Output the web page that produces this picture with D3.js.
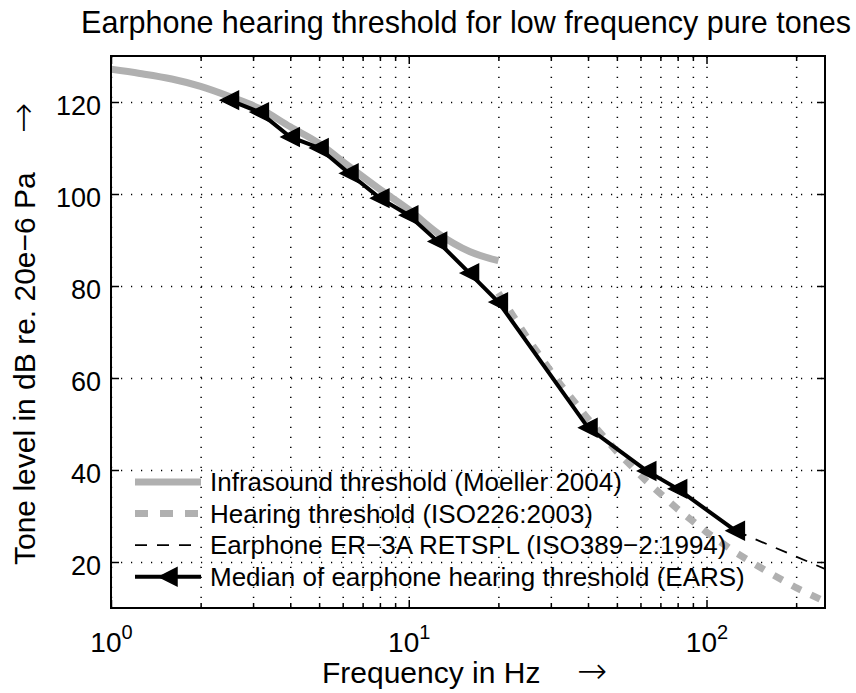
<!DOCTYPE html>
<html lang="en">
    <head>
        <meta charset="utf-8">
        <title>Earphone hearing threshold</title>
        <script src="https://d3js.org/d3.v7.min.js"></script>
        <style>
            body {
                margin: 0;
                background-color: white;
                font-family: 'Liberation Sans', Arial, sans-serif;
            }
            .grid line {
                stroke: #555;
                stroke-width: 1;
                stroke-dasharray: 1.2, 8.8;
            }
            .tick line {
                stroke: black;
                stroke-width: 1.5;
            }
            .arrow {
                font-family: 'DejaVu Sans', sans-serif;
                font-weight: 200;
                font-size: 36px;
            }
        </style>
    </head>
    <body>
        <div class="chart"></div>

        <script>
            // infrasound threshold (Moeller 2004)
            const moellerFreq = [1, 1.25, 1.6, 2, 2.5, 3.15, 4, 5, 6.3, 8, 10, 12.5, 16, 20];
            const moellerDb = [127.1, 126.2, 125.0, 123.4, 121.2, 118.6, 114.6, 111.0, 106.0, 101.0, 96.6, 91.5, 87.5, 85.5];

            // hearing threshold ISO226:2003
            const isoFreq = [20, 25, 31.5, 40, 50, 63, 80, 100, 125, 160, 200, 250];
            const isoDb = [78.5, 68.7, 59.5, 51.1, 44.0, 37.5, 31.5, 26.5, 22.1, 17.9, 14.4, 11.4];

            // earphone ER-3A RETSPL
            const retsplFreq = [125, 250];
            const retsplDb = [26.8, 18.5];

            // median of earphone hearing threshold (EARS)
            const earsFreq = [2.5, 3.15, 4, 5, 6.3, 8, 10, 12.5, 16, 20, 40, 63, 80, 125];
            const earsDb = [120.4, 117.8, 112.4, 110.0, 104.5, 99.1, 95.4, 89.7, 82.8, 76.5, 49.2, 39.8, 35.9, 26.8];

            const yTicks = [20, 40, 60, 80, 100, 120];
            const xMajor = [1, 10, 100];
            const xMinor = [2, 3, 4, 5, 6, 7, 8, 9, 20, 30, 40, 50, 60, 70, 80, 90, 200];

            const legendLabels = [
                "Infrasound threshold (Moeller 2004)",
                "Hearing threshold (ISO226:2003)",
                "Earphone ER\u22123A RETSPL (ISO389\u22122:1994)",
                "Median of earphone hearing threshold (EARS)"
            ];

            const width = 856;
            const height = 693;
            const plotL = 111, plotR = 825, plotT = 56, plotB = 608;

            const xScale = d3.scaleLog().domain([1, 250]).range([plotL, plotR]);
            const yScale = d3.scaleLinear().domain([10, 130]).range([plotB, plotT]);

            const svg = d3.select(".chart")
                .append("svg")
                .attr("width", width)
                .attr("height", height);

            svg.append("clipPath").attr("id", "plotclip")
                .append("rect")
                .attr("x", plotL).attr("y", plotT)
                .attr("width", plotR - plotL).attr("height", plotB - plotT);

            // grid lines
            svg.append("g")
                .attr("class", "grid")
                .attr("transform", "translate(0," + plotB + ")")
                .call(d3.axisBottom(xScale).tickValues(xMajor.concat(xMinor)).tickSize(-(plotB - plotT)).tickFormat(""))
                .call(g => g.select(".domain").remove());
            svg.append("g")
                .attr("class", "grid")
                .attr("transform", "translate(" + plotL + ",0)")
                .call(d3.axisLeft(yScale).tickValues(yTicks).tickSize(-(plotR - plotL)).tickFormat(""))
                .call(g => g.select(".domain").remove());

            // ticks pointing inwards on all four sides
            const tickLen = 8, minorLen = 5;
            svg.append("g")
                .attr("transform", "translate(0," + plotB + ")")
                .call(d3.axisBottom(xScale).tickValues(xMinor).tickSize(-minorLen).tickFormat(""))
                .call(g => g.select(".domain").remove());
            svg.append("g")
                .attr("transform", "translate(0," + plotT + ")")
                .call(d3.axisTop(xScale).tickValues(xMinor).tickSize(-minorLen).tickFormat(""))
                .call(g => g.select(".domain").remove());
            svg.append("g")
                .attr("transform", "translate(0," + plotT + ")")
                .call(d3.axisTop(xScale).tickValues(xMajor).tickSize(-tickLen).tickFormat(""))
                .call(g => g.select(".domain").remove());
            svg.append("g")
                .attr("transform", "translate(" + plotR + ",0)")
                .call(d3.axisRight(yScale).tickValues(yTicks).tickSize(-tickLen).tickFormat(""))
                .call(g => g.select(".domain").remove());

            const xAxis = svg.append("g")
                .attr("transform", "translate(0," + plotB + ")")
                .call(d3.axisBottom(xScale).tickValues(xMajor).tickSize(-tickLen).tickFormat(d => "10"))
                .call(g => g.select(".domain").remove());
            xAxis.selectAll(".tick text")
                .attr("y", 44)
                .attr("dy", 0)
                .attr("fill", "black")
                .style("font-family", "'Liberation Sans', Arial, sans-serif")
                .style("font-size", "28px")
                .each(function(d) {
                    d3.select(this).append("tspan")
                        .attr("dy", -13)
                        .style("font-size", "20px")
                        .text(Math.round(Math.log10(d)));
                });

            svg.append("g")
                .attr("transform", "translate(" + plotL + ",0)")
                .call(d3.axisLeft(yScale).tickValues(yTicks).tickSize(-tickLen).tickPadding(10))
                .call(g => g.select(".domain").remove())
                .call(g => g.selectAll(".tick text")
                    .attr("dy", "0.45em")
                    .attr("fill", "black")
                    .style("font-family", "'Liberation Sans', Arial, sans-serif")
                    .style("font-size", "27px"));

            // data lines
            const plot = svg.append("g").attr("clip-path", "url(#plotclip)");
            const gray = "#b0b0b0";

            const lineOf = (fs, ds, curve) => d3.line()
                .x((d, i) => xScale(fs[i]))
                .y((d, i) => yScale(ds[i]))
                .curve(curve || d3.curveLinear)(ds);

            plot.append("path")
                .attr("d", lineOf(moellerFreq, moellerDb, d3.curveMonotoneX))
                .style("fill", "none")
                .style("stroke", gray)
                .style("stroke-width", 7);

            plot.append("path")
                .attr("d", lineOf(isoFreq, isoDb))
                .style("fill", "none")
                .style("stroke", gray)
                .style("stroke-width", 7)
                .style("stroke-dasharray", "10,11");

            plot.append("path")
                .attr("d", lineOf(retsplFreq, retsplDb))
                .style("fill", "none")
                .style("stroke", "black")
                .style("stroke-width", 1.8)
                .style("stroke-dasharray", "12,10");

            plot.append("path")
                .attr("d", lineOf(earsFreq, earsDb))
                .style("fill", "none")
                .style("stroke", "black")
                .style("stroke-width", 4);

            const marker = "M-9,0L9,-9L9,9Z";
            plot.selectAll(".marker")
                .data(earsDb)
                .enter()
                .append("path")
                .attr("class", "marker")
                .attr("d", marker)
                .attr("transform", (d, i) => "translate(" + xScale(earsFreq[i]) + "," + yScale(d) + ")")
                .style("fill", "black")
                .style("stroke", "black")
                .style("stroke-width", 1.5);

            // plot box
            svg.append("rect")
                .attr("x", plotL).attr("y", plotT)
                .attr("width", plotR - plotL).attr("height", plotB - plotT)
                .style("fill", "none")
                .style("stroke", "black")
                .style("stroke-width", 2);

            // legend
            const legY = 482, legStep = 31.6, legX0 = 135, legX1 = 201;
            const legStyles = [
                { stroke: gray, w: 7, dash: null },
                { stroke: gray, w: 7, dash: "13,12" },
                { stroke: "black", w: 1.8, dash: "12,10" },
                { stroke: "black", w: 4, dash: null }
            ];
            const leg = svg.append("g");
            legendLabels.forEach((label, i) => {
                const yy = legY + i * legStep;
                const s = legStyles[i];
                leg.append("line")
                    .attr("x1", legX0).attr("x2", legX1)
                    .attr("y1", yy).attr("y2", yy)
                    .style("stroke", s.stroke)
                    .style("stroke-width", s.w)
                    .style("stroke-dasharray", s.dash);
                if (i === 3) {
                    leg.append("path")
                        .attr("d", marker)
                        .attr("transform", "translate(" + ((legX0 + legX1) / 2) + "," + yy + ")")
                        .style("fill", "black")
                        .style("stroke", "black")
                        .style("stroke-width", 1.5);
                }
                leg.append("text")
                    .attr("x", 210)
                    .attr("y", yy)
                    .attr("dy", "0.35em")
                    .style("font-size", "26px")
                    .text(label);
            });

            // title and labels
            svg.append("text")
                .attr("x", 466)
                .attr("y", 33)
                .attr("text-anchor", "middle")
                .style("font-size", "30.5px")
                .text("Earphone hearing threshold for low frequency pure tones");

            const xl = svg.append("text")
                .attr("x", 322)
                .attr("y", 683)
                .style("font-size", "30px")
                .text("Frequency in Hz");
            xl.append("tspan").attr("class", "arrow").attr("x", 577).text("\u2192");

            const yl = svg.append("text")
                .attr("transform", "translate(35,0) rotate(-90)")
                .attr("x", -565)
                .attr("y", 0)
                .style("font-size", "30px")
                .text("Tone level in dB re. 20e\u22126 Pa");
            yl.append("tspan").attr("class", "arrow").attr("x", -133).text("\u2192");
        </script>
    </body>
</html>
